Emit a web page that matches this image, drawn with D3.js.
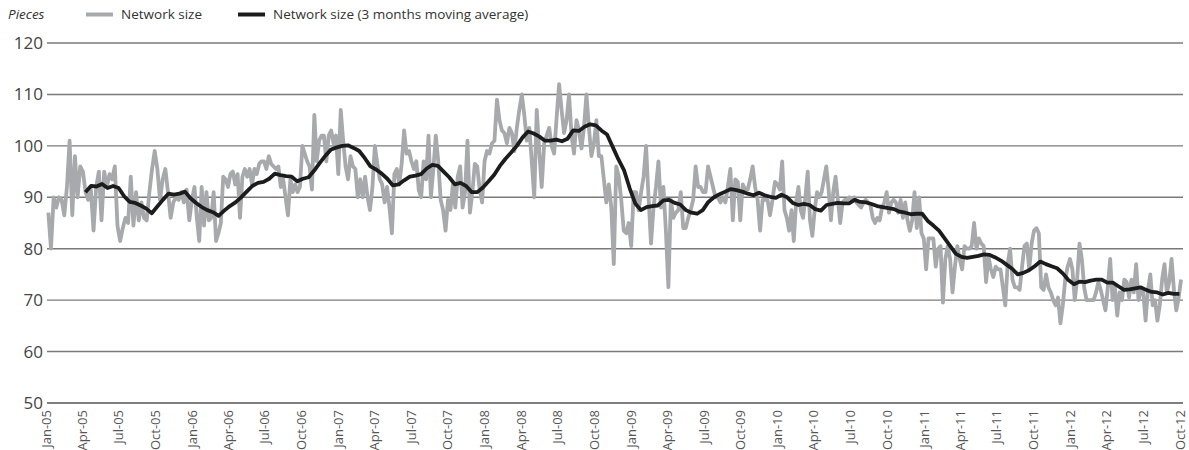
<!DOCTYPE html>
<html>
<head>
<meta charset="utf-8">
<script src="https://cdn.jsdelivr.net/npm/d3@7/dist/d3.min.js"></script>
<style>
  body { margin: 0; background: #fff; }
  text { font-family: "Open Sans", "Noto Sans", sans-serif; }
</style>
</head>
<body>
<svg id="chart" width="1189" height="450"></svg>
<script>
// network size readings, one array per calendar year (spread evenly over the year)
var net2005 = [87, 80, 90, 88, 90, 89.5, 86.5, 92, 101, 86.5, 98, 90, 96, 95, 91, 89.5, 91.5, 83.5, 92, 95, 85.5, 95, 92, 94.5, 93.5, 96, 84.5, 81.5, 84, 86, 85, 94, 84.5, 91, 85.5, 89, 86, 85.5, 91, 95.5, 99, 95.5, 89.5, 93.5, 95.5, 91, 86, 89, 90, 89.5, 91, 89, 91.5, 85.5, 89.5];
var net2006 = [92, 86, 81.5, 92, 84.5, 91, 85.5, 86, 91, 81.5, 83, 85, 94, 93.5, 92, 94.5, 95, 92.5, 94.5, 86, 94, 95.5, 94, 95.5, 92.5, 95.5, 94.5, 96.5, 97, 97, 95.5, 98, 96.5, 96, 95.5, 96, 92, 93.5, 90, 86.5, 93.5, 91, 92.5, 91, 92, 100, 98.5, 97, 96, 91.5, 106, 97, 101, 102, 102, 97, 102, 103, 100.5, 102, 94.5];
var net2007 = [107, 101, 96, 93.5, 98, 96, 95.5, 90, 93.5, 90, 94, 90, 87.5, 92, 100, 96.5, 93.5, 92.5, 89, 92, 88, 83, 94.5, 95.5, 92.5, 96.5, 103, 98.5, 99, 97, 95.5, 97, 91.5, 90, 97, 93.5, 102, 90, 95.5, 102, 97, 89.5, 87.5, 83.5, 89.5, 87.5, 92.5, 88, 94, 96, 88, 91, 101, 87, 91, 96.5, 96, 91.5, 89, 97];
var net2008 = [99, 98.5, 100.5, 101, 109, 105, 103, 102.5, 100.5, 103.5, 102.5, 99, 103.5, 107, 110, 106, 101, 103.5, 97, 90, 107, 99, 92, 100.5, 102, 103.5, 100, 98.5, 105.5, 112, 107, 102.5, 105, 110, 102, 98.5, 105, 103, 99.5, 103.5, 110, 103.5, 98, 100.5, 105, 98, 98, 93.5, 89, 92.5, 88, 77, 96, 94, 89.5, 83.5, 83, 85, 80.5];
var net2009 = [91, 91, 87.5, 91, 94, 100, 90, 81, 88, 92, 97, 88, 92, 83.5, 72.5, 89.5, 86, 87, 87.5, 91, 84, 84, 86, 87.5, 89.5, 96, 92, 92, 91, 91, 96, 94, 92, 90, 90, 89, 90, 89, 92, 95.5, 85.5, 93.5, 93, 85.5, 92.5, 91.5, 91.5, 93.5, 96, 92, 89.5, 83.5, 89.5, 89.5, 89.5, 86.5, 89.5, 93, 92.5];
var net2010 = [91.5, 97, 87.5, 86, 83.5, 87.5, 81.5, 89, 92, 87.5, 86, 90, 95, 85.5, 82.5, 87.5, 91, 90, 91, 93.5, 96, 91.5, 85.5, 91, 94, 89.5, 85, 89, 89.5, 89.5, 90, 89.5, 90, 89, 88.5, 88, 89, 89.5, 89, 88.5, 86, 85, 86, 85.5, 88, 89, 91, 87, 89, 89.5, 89, 87, 89.5, 86, 89, 85.5, 83.5, 85.5, 91, 84, 90, 83, 82];
var net2011 = [76, 82, 82, 82, 76.5, 80, 80.5, 69.5, 78, 80.5, 78, 71.5, 76.5, 80.5, 78, 76, 80.5, 80, 80, 80.5, 85, 80, 82, 81, 80.5, 73.5, 78.5, 76, 74.5, 76.5, 76, 76, 72.5, 69, 77, 80, 74, 72.5, 72.5, 72, 76.5, 80.5, 81, 76, 81, 83.5, 84, 83, 72.5, 72, 75, 72.5, 71.5, 70, 69, 70.5, 65.5, 69, 74, 76.5, 78];
var net2012 = [76, 70, 74, 81, 78, 72.5, 70, 70, 70, 70, 71.5, 73.5, 72, 70, 68, 72.5, 78, 70, 72.5, 67, 71.5, 70, 74, 73.5, 70.5, 74, 71.5, 77, 70, 72, 71.5, 66, 72, 75, 69, 70, 66, 69, 74, 77, 71.5, 73.5, 78, 72, 68, 70.5, 74];

// 3 months moving average, read every two weeks
var avg2005 = [91, 92.2, 92.1, 92.6, 91.8, 92.2, 91.8, 90.2, 89.1, 88.9, 88.4, 87.8, 86.9, 88.2, 89.5, 90.7, 90.5, 90.7, 91.1, 89.8];
var avg2006 = [88.9, 88.1, 87.5, 87.1, 86.4, 87.4, 88.3, 89, 90, 91.1, 92.2, 92.8, 93, 93.6, 94.6, 94.3, 94.1, 94, 93.1, 93.6, 93.9, 95.2, 96.7, 98.1, 99.3, 99.7];
var avg2007 = [100, 100.1, 99.6, 99, 97.6, 96, 95.4, 94.6, 93.6, 92.3, 92.5, 93.3, 94, 94.2, 94.5, 95.6, 96.3, 96.1, 95, 93.9, 92.5, 92.8, 92.2, 91, 91, 91.9];
var avg2008 = [93.1, 94.4, 96.1, 97.5, 98.7, 100, 101.6, 102.8, 102.4, 101.8, 101, 101, 101.2, 100.9, 101.4, 103, 102.9, 103.7, 104.2, 104, 103, 102.2, 99.8, 97.4, 95.3, 91.8];
var avg2009 = [88.8, 87.5, 88.1, 88.3, 88.4, 89.4, 89.5, 88.9, 88.6, 87.5, 87, 86.8, 87.5, 89.1, 90, 90.6, 91.1, 91.6, 91.4, 91.1, 90.7, 90.4, 90.9, 90.4, 90.1, 89.9];
var avg2010 = [90.5, 90, 88.9, 88.5, 88.7, 88.5, 87.7, 87.4, 88.5, 88.7, 88.9, 88.8, 88.8, 89.5, 89.1, 89, 88.7, 88.3, 88.1, 87.9, 87.7, 87.2, 87, 86.7, 86.8, 86.8];
var avg2011 = [85.4, 84.5, 83.5, 82, 80.5, 79, 78.4, 78.2, 78.4, 78.6, 78.9, 78.8, 78.3, 77.7, 76.9, 76.1, 75, 75.3, 75.8, 76.6, 77.5, 77, 76.6, 76.2, 75.2, 73.9];
var avg2012 = [73.1, 73.6, 73.5, 73.8, 74, 74, 73.4, 73.4, 72.7, 72, 72.1, 72.3, 72.5, 72, 71.6, 71.5, 71.1, 71.4, 71.2, 71.2];

var yTicks = [50, 60, 70, 80, 90, 100, 110, 120];
var seriesNames = ["Network size", "Network size (3 months moving average)"];
var unitLabel = "Pieces";

var parseDate = d3.timeParse("%Y-%m-%d");

// place each year's readings evenly between two dates
function spread(values, from, to) {
    var a = parseDate(from).getTime(),
        b = parseDate(to).getTime(),
        step = (b - a) / values.length;
    return values.map(function(v, k) {
        return { date: new Date(a + (k + 0.5) * step), value: v };
    });
}

var network = [].concat(
    spread(net2005, "2005-01-01", "2006-01-01"),
    spread(net2006, "2006-01-01", "2007-01-01"),
    spread(net2007, "2007-01-01", "2008-01-01"),
    spread(net2008, "2008-01-01", "2009-01-01"),
    spread(net2009, "2009-01-01", "2010-01-01"),
    spread(net2010, "2010-01-01", "2011-01-01"),
    spread(net2011, "2011-01-01", "2012-01-01"),
    spread(net2012, "2012-01-01", "2012-10-04"));

var average = [].concat(
    spread(avg2005, "2005-03-31", "2006-01-01"),
    spread(avg2006, "2006-01-01", "2007-01-01"),
    spread(avg2007, "2007-01-01", "2008-01-01"),
    spread(avg2008, "2008-01-01", "2009-01-01"),
    spread(avg2009, "2009-01-01", "2010-01-01"),
    spread(avg2010, "2010-01-01", "2011-01-01"),
    spread(avg2011, "2011-01-01", "2012-01-01"),
    spread(avg2012, "2012-01-01", "2012-10-04"));

var svg = d3.select("#chart");
svg.append("rect").attr("width", 1189).attr("height", 450).attr("fill", "#fff");

var x = d3.scaleTime()
    .domain([parseDate("2005-01-01"), parseDate("2012-10-01")])
    .range([47, 1181]);
var y = d3.scaleLinear().domain([50, 120]).range([403, 43]);

// gridlines + y labels
var grid = svg.append("g");
grid.selectAll("line")
    .data(yTicks)
    .enter().append("line")
    .attr("x1", 47).attr("x2", 1183)
    .attr("y1", function(d) { return y(d); })
    .attr("y2", function(d) { return y(d); })
    .attr("stroke", function(d) { return d === 50 ? "#555" : "#7a7a7a"; })
    .attr("stroke-width", 1.4);

grid.selectAll("text")
    .data(yTicks)
    .enter().append("text")
    .attr("x", 43)
    .attr("y", function(d) { return y(d); })
    .attr("dy", "0.35em")
    .attr("text-anchor", "end")
    .attr("font-size", 17)
    .attr("fill", "#444")
    .text(function(d) { return d; });

// x labels, every quarter
var fmt = d3.timeFormat("%b-%y");
svg.append("g")
    .selectAll("text")
    .data(x.ticks(d3.timeMonth.every(3)))
    .enter().append("text")
    .attr("transform", function(d) { return "translate(" + (x(d) - 1) + ",410) rotate(-90)"; })
    .attr("dy", "0.35em")
    .attr("text-anchor", "end")
    .attr("font-size", 13)
    .attr("fill", "#555")
    .text(function(d) { return fmt(d); });

var line = d3.line()
    .x(function(d) { return x(d.date); })
    .y(function(d) { return y(d.value); });

svg.append("path")
    .datum(network)
    .attr("fill", "none")
    .attr("stroke", "#a7a9ac")
    .attr("stroke-width", 3.8)
    .attr("stroke-linejoin", "round")
    .attr("d", line);

svg.append("path")
    .datum(average)
    .attr("fill", "none")
    .attr("stroke", "#1c1c1c")
    .attr("stroke-width", 3.8)
    .attr("stroke-linejoin", "round")
    .attr("d", line);

// legend
svg.append("text")
    .attr("x", 8).attr("y", 19)
    .attr("font-size", 13.5)
    .attr("font-style", "italic")
    .attr("fill", "#333")
    .text(unitLabel);

var legend = svg.append("g");
var legendX = [86, 238];
var legendColors = ["#a7a9ac", "#1c1c1c"];
seriesNames.forEach(function(name, k) {
    legend.append("line")
        .attr("x1", legendX[k]).attr("x2", legendX[k] + 27)
        .attr("y1", 14.5).attr("y2", 14.5)
        .attr("stroke", legendColors[k])
        .attr("stroke-width", 4);
    legend.append("text")
        .attr("x", legendX[k] + 35).attr("y", 19)
        .attr("font-size", 13.5)
        .attr("fill", "#333")
        .text(name);
});
</script>
</body>
</html>
